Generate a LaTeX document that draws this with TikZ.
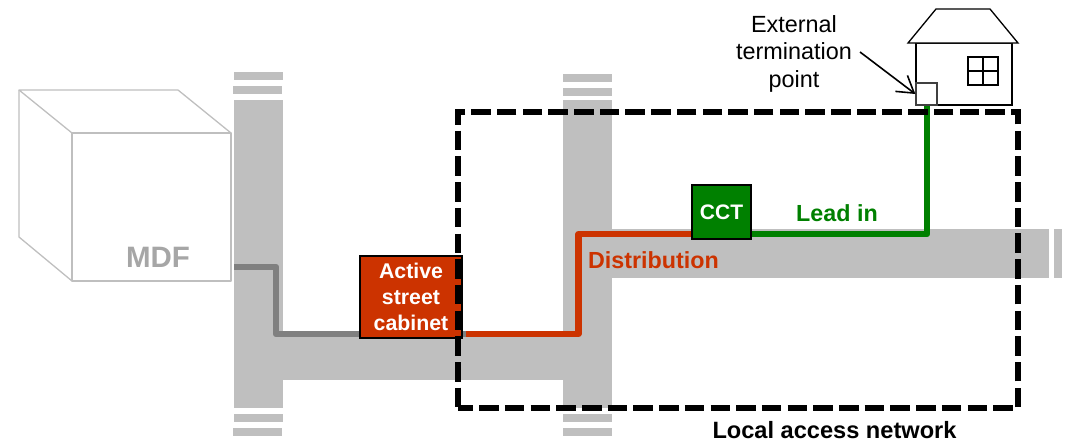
\documentclass[tikz,border=0pt]{standalone}
\usepackage{fontspec}
\setmainfont{Liberation Sans}
\usetikzlibrary{arrows.meta}
\definecolor{band}{HTML}{BFBFBF}
\definecolor{cubeline}{HTML}{BFBFBF}
\definecolor{mdftext}{HTML}{A6A6A6}
\definecolor{oldline}{HTML}{808080}
\definecolor{rust}{HTML}{CC3300}
\definecolor{leaf}{HTML}{008000}
\tikzset{
  bandfill/.style={fill=band,draw=none},
  route/.style={line width=6.3pt,line join=round,line cap=butt},
  cubeedge/.style={draw=cubeline,line width=1.3pt,line join=round},
  houseline/.style={draw=black,line width=1.3pt,line join=miter},
  boxlabel/.style={draw=black,line width=1.1pt,text=white,font=\bfseries,align=center,inner sep=0pt},
  labeltext/.style={inner sep=0pt,align=center},
  frameline/.style={draw=black,line width=6pt,dash pattern=on 19.5pt off 6.2pt,dash phase=4.5pt,line join=miter}
}
\begin{document}
\begin{tikzpicture}[x=1pt,y=-1pt]
\useasboundingbox (0,0) rectangle (1067,442);
% grey bands
\fill[bandfill] (234,100) rectangle (283,408);
\fill[bandfill] (234,72) rectangle (283,80);
\fill[bandfill] (233,86) rectangle (282,94);
\fill[bandfill] (234,414) rectangle (283,422);
\fill[bandfill] (233,428) rectangle (282,436);
\fill[bandfill] (283,332) rectangle (563,380);
\fill[bandfill] (563,100) rectangle (612,408);
\fill[bandfill] (563,74) rectangle (612,82);
\fill[bandfill] (563,88) rectangle (612,96);
\fill[bandfill] (563,414) rectangle (612,422);
\fill[bandfill] (563,428) rectangle (612,436);
\fill[bandfill] (612,229) rectangle (1049,278);
\fill[bandfill] (1054,229) rectangle (1062,278);
% MDF cube
\draw[cubeedge] (72,133) rectangle (231,281);
\draw[cubeedge] (72,133) -- (19,90) -- (178,90) -- (231,133);
\draw[cubeedge] (19,90) -- (19,237) -- (72,281);
\node[labeltext,text=mdftext,font=\fontsize{29.5}{32}\selectfont\bfseries] (mdf) at (158,257) {MDF};
% waypoints
\coordinate (g0) at (234,267);
\coordinate (g1) at (276,267);
\coordinate (g2) at (276,334);
\coordinate (g3) at (466,334);
\coordinate (r0) at (466,334);
\coordinate (r1) at (578.5,334);
\coordinate (r2) at (578.5,234);
\coordinate (r3) at (700,234);
\coordinate (v0) at (740,234);
\coordinate (v1) at (927,234);
\coordinate (v2) at (927,105);
% routes
\draw[route,oldline] (g0) -- (g1) -- (g2) -- (g3);
\draw[route,rust] (r0) -- (r1) -- (r2) -- (r3);
\draw[route,leaf] (v0) -- (v1) -- (v2);
% boxes
\node[boxlabel,fill=rust,minimum width=102pt,minimum height=82pt,font=\fontsize{21.3}{26}\selectfont\bfseries] (cabinet) at (411,297) {\raisebox{-0.7pt}{Active}\\\raisebox{-0.7pt}{street}\\cabinet};
\node[boxlabel,fill=leaf,minimum width=59pt,minimum height=54pt,font=\fontsize{21}{24}\selectfont\bfseries] (cct) at (721.5,212) {\raisebox{-1pt}{CCT}};
% frame
\draw[frameline] (458,408) -- (1018,408) -- (1018,112) -- (458,112) -- cycle;
% labels
\node[labeltext,text=rust,font=\fontsize{23.3}{26}\selectfont\bfseries] (dist) at (653.5,260) {Distribution};
\node[labeltext,text=leaf,font=\fontsize{23.3}{26}\selectfont\bfseries] (lead) at (837,213) {Lead in};
\node[labeltext,font=\fontsize{23.6}{26}\selectfont\bfseries] (lan) at (834.5,430) {Local access network};
\node[labeltext,font=\fontsize{23.4}{27.5}\selectfont] (ext) at (794,53.5) {External\\termination\\point};
% house
\draw[houseline,fill=white] (916,43) rectangle (1012,105);
\draw[houseline,fill=white] (908,43) -- (936,9) -- (990,9) -- (1018,43) -- cycle;
\draw[houseline] (968,57) rectangle (998,85);
\draw[houseline] (983,57) -- (983,85);
\draw[houseline] (968,71) -- (998,71);
\node[draw=black!75,fill=white,line width=1.3pt,minimum width=21pt,minimum height=22pt,inner sep=0pt] (term) at (926.5,94) {};
\coordinate (tip) at (860,52);
\draw[line width=1.6pt,-{Straight Barb[length=16pt,width=20pt]}] (tip) -- (term.west);
\end{tikzpicture}
\end{document}
